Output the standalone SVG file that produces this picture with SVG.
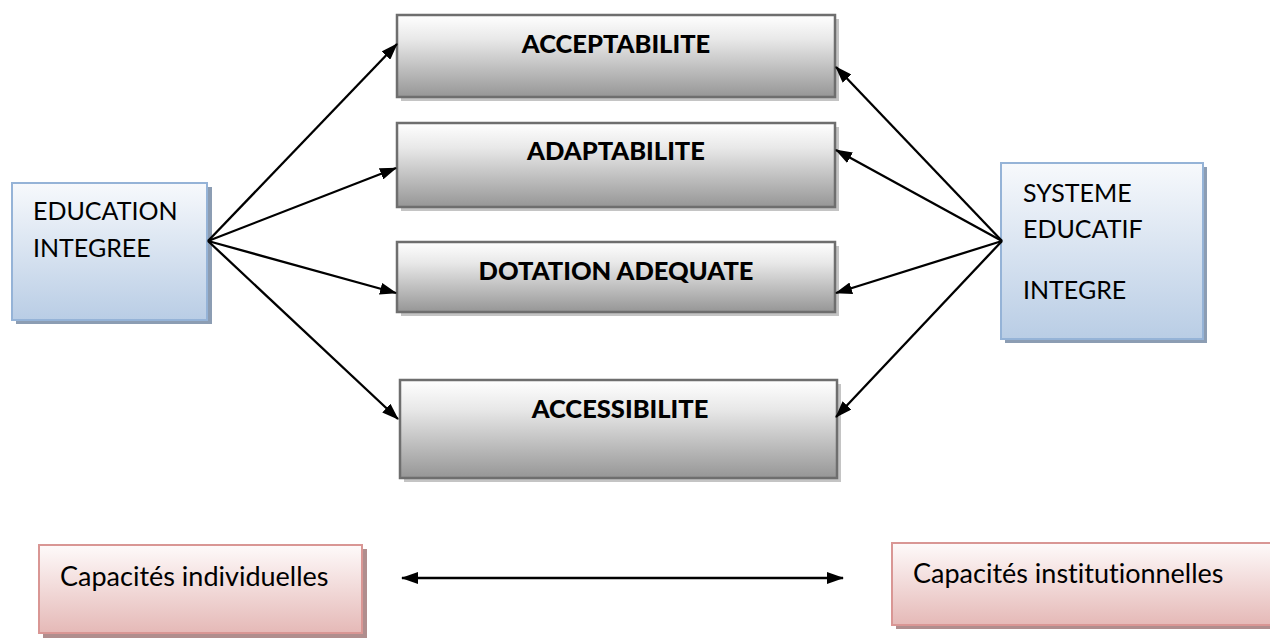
<svg xmlns="http://www.w3.org/2000/svg" width="1270" height="638" viewBox="0 0 1270 638">
<defs>
<linearGradient id="gGray" x1="0" y1="0" x2="0" y2="1">
<stop offset="0" stop-color="#ffffff"/><stop offset="0.3" stop-color="#e8e8e8"/><stop offset="1" stop-color="#969696"/>
</linearGradient>
<linearGradient id="gBlue" x1="0" y1="0" x2="0" y2="1">
<stop offset="0" stop-color="#f7f9fc"/><stop offset="1" stop-color="#b9cde5"/>
</linearGradient>
<linearGradient id="gPink" x1="0" y1="0" x2="0" y2="1">
<stop offset="0" stop-color="#fefafa"/><stop offset="1" stop-color="#e5b9b7"/>
</linearGradient>
<marker id="ah" viewBox="0 0 17 12" refX="16" refY="6" markerWidth="17" markerHeight="12" markerUnits="userSpaceOnUse" orient="auto-start-reverse">
<path d="M0,0 L17,6 L0,12 z" fill="#000"/>
</marker>
<style>
.gray{fill:url(#gGray);stroke:#6e6e6e;stroke-width:2.5}
.gsh{fill:#c4c4c4}
.blue{fill:url(#gBlue);stroke:#95b3d7;stroke-width:2}
.bsh{fill:#8c9db3}
.pink{fill:url(#gPink);stroke:#d99694;stroke-width:2}
.psh{fill:#b08e8e}
.lbl{font-family:Lato,"Liberation Sans",sans-serif;font-weight:900;font-size:25.5px;fill:#000;text-anchor:middle}
.txt{font-family:Lato,"Liberation Sans",sans-serif;font-size:25px;fill:#000;font-variant-ligatures:none}
.cap{font-size:27px}
.conn line{stroke:#000;stroke-width:2.3;marker-end:url(#ah)}
</style>
</defs>
<rect width="1270" height="638" fill="#fff"/>

<g id="n-education">
<rect class="bsh" x="16" y="187" width="196" height="137"/>
<rect class="blue" x="12" y="183" width="195" height="137"/>
<text class="txt" x="33" y="220">EDUCATION</text>
<text class="txt" x="33" y="257">INTEGREE</text>
</g>

<g id="n-systeme">
<rect class="bsh" x="1005" y="167" width="202" height="176"/>
<rect class="blue" x="1001" y="163" width="202" height="176"/>
<text class="txt" x="1023" y="202">SYSTEME</text>
<text class="txt" x="1023" y="238">EDUCATIF</text>
<text class="txt" x="1023" y="299">INTEGRE</text>
</g>

<g id="n-acceptabilite">
<rect class="gsh" x="401" y="19" width="438" height="82"/>
<rect class="gray" x="397" y="15" width="438" height="82"/>
<text class="lbl" x="616" y="53">ACCEPTABILITE</text>
</g>

<g id="n-adaptabilite">
<rect class="gsh" x="401" y="127" width="438" height="84"/>
<rect class="gray" x="397" y="123" width="438" height="84"/>
<text class="lbl" x="616" y="160">ADAPTABILITE</text>
</g>

<g id="n-dotation">
<rect class="gsh" x="401" y="246" width="438" height="70"/>
<rect class="gray" x="397" y="242" width="438" height="70"/>
<text class="lbl" x="616" y="280">DOTATION ADEQUATE</text>
</g>

<g id="n-accessibilite">
<rect class="gsh" x="404" y="384" width="437" height="98"/>
<rect class="gray" x="400" y="380" width="437" height="98"/>
<text class="lbl" x="620" y="418">ACCESSIBILITE</text>
</g>

<g id="n-cap-ind">
<rect class="psh" x="43" y="549" width="324" height="89"/>
<rect class="pink" x="39" y="545" width="323" height="88"/>
<text class="txt cap" x="60" y="586">Capacités individuelles</text>
</g>

<g id="n-cap-inst">
<rect class="psh" x="896" y="547" width="380" height="82"/>
<rect class="pink" x="892" y="543" width="384" height="82"/>
<text class="txt cap" x="913" y="583">Capacités institutionnelles</text>
</g>

<g id="connectors" class="conn">
<line x1="208" y1="241" x2="397" y2="44"/>
<line x1="208" y1="241" x2="396" y2="168"/>
<line x1="208" y1="241" x2="396" y2="293"/>
<line x1="208" y1="241" x2="398" y2="419"/>
<line x1="1002" y1="241" x2="836" y2="67"/>
<line x1="1002" y1="241" x2="836" y2="150"/>
<line x1="1002" y1="241" x2="836" y2="293"/>
<line x1="1002" y1="241" x2="836" y2="417"/>
<line x1="402" y1="578" x2="843" y2="578" marker-start="url(#ah)"/>
</g>
</svg>
